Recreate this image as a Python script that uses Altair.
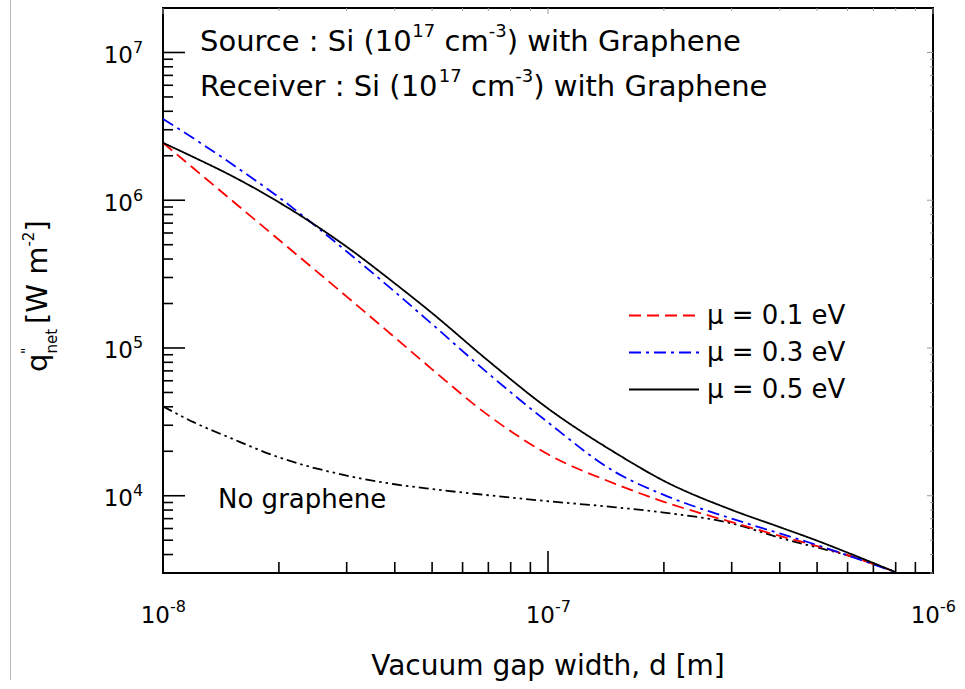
import altair as alt
import pandas as pd

FONT = "DejaVu Sans"

# Vacuum gap width d [m]
gap = [1e-8, 1.2e-8, 1.5e-8, 2e-8, 3e-8, 4e-8, 5e-8, 7e-8, 1e-7,
       1.5e-7, 2e-7, 3e-7, 4e-7, 5e-7, 6e-7, 8e-7]

# Net radiative heat flux q''_net [W m^-2]
q_mu01 = [2.447e6, 1.645e6, 1.011e6, 5.40e5, 2.228e5, 1.179e5, 7.17e4, 3.499e4, 1.907e4,
          1.200e4, 9.095e3, 6.631e3, 5.343e3, 4.565e3, 3.963e3, 3.04e3]
q_mu03 = [3.553e6, 2.624e6, 1.778e6, 1.046e6, 4.502e5, 2.401e5, 1.450e5, 6.714e4, 3.138e4,
          1.439e4, 1.013e4, 7.003e3, 5.554e3, 4.637e3, 3.951e3, 3.04e3]
q_mu05 = [2.447e6, 1.958e6, 1.473e6, 9.69e5, 4.84e5, 2.736e5, 1.721e5, 8.18e4, 3.895e4,
          1.943e4, 1.261e4, 8.02e3, 6.13e3, 4.965e3, 4.12e3, 3.04e3]
q_none = [4.025e4, 3.148e4, 2.454e4, 1.820e4, 1.369e4, 1.196e4, 1.110e4, 1.008e4, 9.18e3,
          8.35e3, 7.69e3, 6.50e3, 5.195e3, 4.467e3, 3.951e3, 3.04e3]

series_labels = ["\u03bc = 0.1 eV", "\u03bc = 0.3 eV", "\u03bc = 0.5 eV"]
series_colors = ["#ff0000", "#0000ff", "#000000"]
series_dashes = [[12, 6], [12, 5, 3, 5], [1, 0]]

# Axis ticks
x_major = [1e-8, 1e-7, 1e-6]
x_major_exp = ["-8", "-7", "-6"]
x_minor = [m * 10.0 ** e for e in (-8, -7) for m in range(2, 10)]
y_major = [1e4, 1e5, 1e6, 1e7]
y_major_exp = ["4", "5", "6", "7"]
y_minor = [m * 1e3 for m in range(3, 10)] + [m * 10.0 ** e for e in (4, 5, 6) for m in range(2, 10)]

W, H = 770, 565
XS = alt.Scale(type="log", domain=[1e-8, 1e-6])
YS = alt.Scale(type="log", domain=[3e3, 2e7])

# DejaVu Sans advance widths (em) used to lay out mixed-size text runs
ADV = {" ": .318, "(": .390, ")": .390, ",": .318, "-": .361, ".": .318, ":": .337,
       "=": .838, "[": .390, "]": .390, '"': .460, "G": .775, "N": .748, "R": .695,
       "S": .635, "V": .684, "W": .989, "a": .613, "c": .550, "e": .615, "g": .635,
       "h": .634, "i": .278, "m": .974, "n": .634, "o": .612, "p": .635, "q": .635,
       "r": .411, "t": .392, "u": .634, "v": .592, "w": .818, "\u03bc": .635}


def text_width(s, size):
    return sum(ADV.get(c, .636) for c in s) * size


def rich_text(pieces, x, y, angle=0):
    """Runs of (text, font size, baseline shift) placed one after another."""
    layers = []
    advance = 0.0
    for s, size, shift in pieces:
        lead = len(s) - len(s.lstrip(" "))
        advance += text_width(" " * lead, size)
        s = s.lstrip(" ")
        if s:
            layers.append(
                alt.Chart(pd.DataFrame({"s": [s]}))
                .mark_text(align="left", baseline="alphabetic", font=FONT, fontSize=size,
                           color="black", angle=angle, dx=advance, dy=shift)
                .encode(text="s:N", x=alt.value(x), y=alt.value(y))
            )
        advance += text_width(s, size)
    return layers


# Curves with graphene coatings
rows = []
for lab, vals in zip(series_labels, [q_mu01, q_mu03, q_mu05]):
    for d, q in zip(gap, vals):
        rows.append({"d": d, "q": q, "mu": lab})
curves = pd.DataFrame(rows)

legend = alt.Legend(orient="none", legendX=465, legendY=289, title=None,
                    symbolType="stroke", symbolSize=4900, symbolStrokeWidth=1.8,
                    labelFont=FONT, labelFontSize=26, labelColor="black", labelOffset=7,
                    clipHeight=37, rowPadding=0, padding=0, labelLimit=0)

graphene = alt.Chart(curves).mark_line(strokeWidth=1.8, interpolate="monotone", clip=True).encode(
    x=alt.X("d:Q", scale=XS, axis=None),
    y=alt.Y("q:Q", scale=YS, axis=None),
    color=alt.Color("mu:N", scale=alt.Scale(domain=series_labels, range=series_colors), legend=legend),
    strokeDash=alt.StrokeDash("mu:N", scale=alt.Scale(domain=series_labels, range=series_dashes), legend=legend),
    order="d:Q",
)

bare = alt.Chart(pd.DataFrame({"d": gap, "q": q_none})).mark_line(
    strokeWidth=1.8, color="black", strokeDash=[10, 4, 2.5, 4, 2.5, 4],
    interpolate="monotone", clip=True).encode(
    x=alt.X("d:Q", scale=XS, axis=None),
    y=alt.Y("q:Q", scale=YS, axis=None),
)


def y_ticks(values, x0, x1, color="black", width=1.6):
    return alt.Chart(pd.DataFrame({"q": values})).mark_rule(color=color, strokeWidth=width).encode(
        y=alt.Y("q:Q", scale=YS, axis=None), x=alt.value(x0), x2=alt.value(x1))


def x_ticks(values, y0, y1, color="black", width=1.6):
    return alt.Chart(pd.DataFrame({"d": values})).mark_rule(color=color, strokeWidth=width).encode(
        x=alt.X("d:Q", scale=XS, axis=None), y=alt.value(y0), y2=alt.value(y1))


# inward ticks: black on the left/bottom, faint mirrored ones on the right/top
ticks = [
    y_ticks(y_major, 0, 22), y_ticks(y_minor, 0, 10),
    x_ticks(x_major, H - 22, H), x_ticks(x_minor, H - 11, H),
    y_ticks(y_major, W - 6, W, "#999999", 1), y_ticks(y_minor, W - 3, W, "#999999", 1),
    x_ticks(x_major, 0, 6, "#999999", 1), x_ticks(x_minor, 0, 3, "#999999", 1),
]

ylab = alt.Chart(pd.DataFrame({"q": y_major, "e": y_major_exp})).encode(
    y=alt.Y("q:Q", scale=YS, axis=None), x=alt.value(-30))
xlab = alt.Chart(pd.DataFrame({"d": x_major, "e": x_major_exp})).encode(
    x=alt.X("d:Q", scale=XS, axis=None))

labels = [
    ylab.mark_text(align="right", baseline="alphabetic", font=FONT, fontSize=23, dy=10.5,
                   color="black").encode(text=alt.value("10")),
    ylab.mark_text(align="left", baseline="alphabetic", font=FONT, fontSize=16, dy=0.5,
                   color="black").encode(text="e:N"),
    xlab.mark_text(align="right", baseline="alphabetic", font=FONT, fontSize=23, dx=7,
                   color="black").encode(text=alt.value("10"), y=alt.value(615)),
    xlab.mark_text(align="left", baseline="alphabetic", font=FONT, fontSize=16, dx=7,
                   color="black").encode(text="e:N", y=alt.value(604)),
]

x_title = alt.Chart(pd.DataFrame({"s": ["Vacuum gap width, d [m]"]})).mark_text(
    align="center", baseline="alphabetic", font=FONT, fontSize=28, color="black").encode(
    text="s:N", x=alt.value(W / 2), y=alt.value(667))

# rotated y title: q with subscript "net", double prime above, then the unit
y_title = rich_text([("q", 29, 0), ("net", 15, 10)], -116, 364, angle=270)
y_title += rich_text([("[W m", 29, 0), ("-2", 15, -13), ("]", 29, 0)], -116, 316, angle=270)
y_title += rich_text([('"', 14, 0)], -132, 346, angle=270)

notes = []
notes += rich_text([("Source : Si (10", 29, 0), ("17", 18, -14), (" cm", 29, 0),
                    ("-3", 18, -14), (") with Graphene", 29, 0)], 37, 43)
notes += rich_text([("Receiver : Si (10", 29, 0), ("17", 18, -14), (" cm", 29, 0),
                    ("-3", 18, -14), (") with Graphene", 29, 0)], 37, 88)
notes += rich_text([("No graphene", 26, 0)], 55, 500)

edge = alt.Chart(pd.DataFrame({"k": [0]})).mark_rule(color="#bbbbbb", strokeWidth=1).encode(
    x=alt.value(10.5 - 163), y=alt.value(-8), y2=alt.value(672))

chart = alt.layer(
    *ticks, bare, graphene, *labels, x_title, *y_title, *notes, edge
).properties(
    width=W, height=H,
    padding={"left": 163, "top": 8, "right": 32, "bottom": 116},
    autosize="none",
).configure_view(stroke="black", strokeWidth=2)

chart.save("out.html", embed_options={"renderer": "svg", "actions": False})
